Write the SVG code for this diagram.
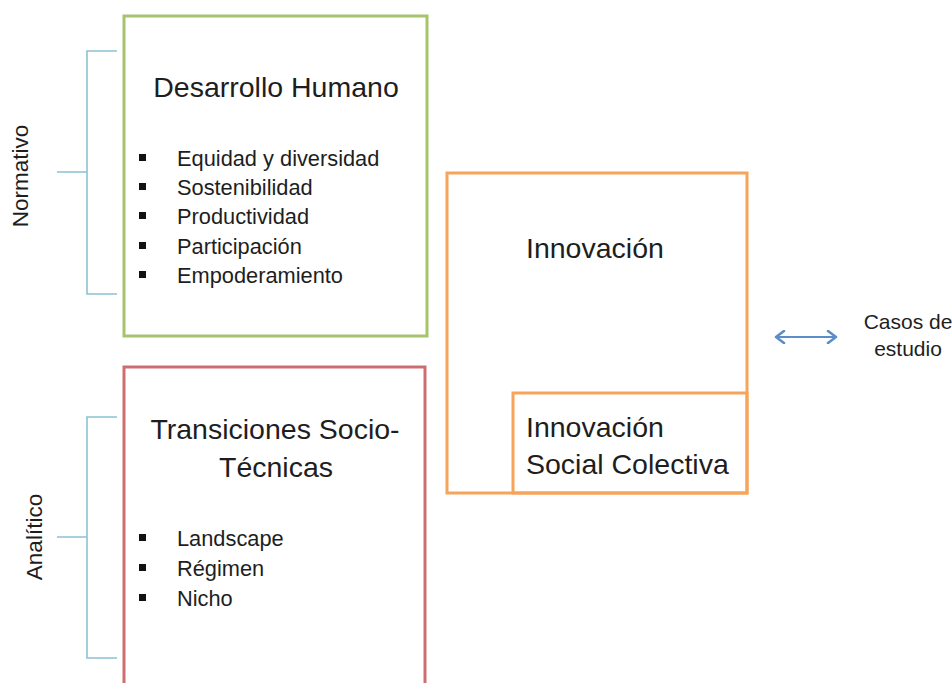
<svg xmlns="http://www.w3.org/2000/svg" width="952" height="683" viewBox="0 0 952 683">
<defs>
<style>
text{font-family:"Liberation Sans",Arial,sans-serif;fill:#1e1e1e}
.title{font-size:28.5px}
.item{font-size:21.8px}
.case{font-size:21px}
.side{font-size:22.5px}
.box{fill:none;stroke-width:3}
.br{fill:none;stroke:#8cc2d4;stroke-width:1.6}
.bul{fill:#111}
</style>
<marker id="ah" viewBox="0 0 12 14" refX="10" refY="7" markerWidth="12" markerHeight="14" markerUnits="userSpaceOnUse" orient="auto-start-reverse">
<path d="M2,1 L10,7 L2,13" fill="none" stroke="#5b8ec9" stroke-width="2.6" stroke-linecap="round" stroke-linejoin="round"/>
</marker>
</defs>
<rect width="952" height="683" fill="#fff"/>

<g id="bracket-normativo">
<path class="br" d="M117,51 H87 V294 H117 M57,172 H87"/>
<text class="side" transform="translate(28,176) rotate(-90)" text-anchor="middle">Normativo</text>
</g>

<g id="desarrollo-humano">
<rect class="box" x="124" y="16" width="303" height="320" stroke="#a6c46c"/>
<text class="title" x="276" y="97" text-anchor="middle">Desarrollo Humano</text>
<rect class="bul" x="139" y="154" width="7" height="7"/>
<rect class="bul" x="139" y="183" width="7" height="7"/>
<rect class="bul" x="139" y="212" width="7" height="7"/>
<rect class="bul" x="139" y="242" width="7" height="7"/>
<rect class="bul" x="139" y="271" width="7" height="7"/>
<text class="item" x="177" y="166">Equidad y diversidad</text>
<text class="item" x="177" y="195">Sostenibilidad</text>
<text class="item" x="177" y="224">Productividad</text>
<text class="item" x="177" y="254">Participación</text>
<text class="item" x="177" y="283">Empoderamiento</text>
</g>

<g id="bracket-analitico">
<path class="br" d="M117,417 H87 V658 H117 M57,537 H87"/>
<text class="side" transform="translate(42,537) rotate(-90)" text-anchor="middle">Analítico</text>
</g>

<g id="transiciones">
<rect class="box" x="124" y="367" width="301" height="330" stroke="#cd6f72"/>
<text class="title" x="275" y="439" text-anchor="middle">Transiciones Socio-</text>
<text class="title" x="276" y="477" text-anchor="middle">Técnicas</text>
<rect class="bul" x="139" y="534" width="7" height="7"/>
<rect class="bul" x="139" y="564" width="7" height="7"/>
<rect class="bul" x="139" y="594" width="7" height="7"/>
<text class="item" x="177" y="546">Landscape</text>
<text class="item" x="177" y="576">Régimen</text>
<text class="item" x="177" y="606">Nicho</text>
</g>

<g id="innovacion">
<rect class="box" x="447" y="173" width="300" height="320" stroke="#f5a45a"/>
<text class="title" x="526" y="258">Innovación</text>
</g>

<g id="innovacion-social-colectiva">
<rect class="box" x="513" y="393" width="234" height="100" stroke="#f5a45a"/>
<text class="title" x="526" y="437">Innovación</text>
<text class="title" x="526" y="474">Social Colectiva</text>
</g>

<g id="casos-de-estudio">
<text class="case" x="908" y="329" text-anchor="middle">Casos de</text>
<text class="case" x="908" y="356" text-anchor="middle">estudio</text>
</g>

<g id="connectors">
<line x1="776" y1="337" x2="836" y2="337" stroke="#5b8ec9" stroke-width="2" marker-start="url(#ah)" marker-end="url(#ah)"/>
</g>
</svg>
